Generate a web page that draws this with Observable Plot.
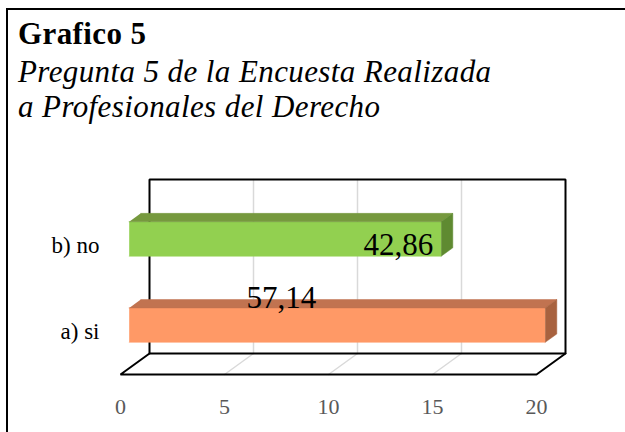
<!DOCTYPE html>
<html><head><meta charset="utf-8">
<script src="https://cdn.jsdelivr.net/npm/d3@7"></script>
<script src="https://cdn.jsdelivr.net/npm/@observablehq/plot@0.6"></script>
<style>
html,body{margin:0;padding:0;background:#fff;}
body{width:625px;height:432px;position:relative;overflow:hidden;font-family:"Liberation Serif","Times New Roman",serif;}
#box{position:absolute;left:6px;top:8px;width:800px;height:800px;border-left:2px solid #000;border-top:2px solid #000;}
.t{position:absolute;left:18px;white-space:nowrap;color:#000;}
#title{top:19px;font-weight:bold;font-size:31px;line-height:30px;letter-spacing:0.4px;}
#sub{top:54px;font-style:italic;font-size:31px;line-height:35px;letter-spacing:0.4px;}
#chart{position:absolute;left:0;top:150px;}
</style></head><body>
<div id="box"></div>
<div id="title" class="t">Grafico 5</div>
<div id="sub" class="t">Pregunta 5 de la Encuesta Realizada<br>a Profesionales del Derecho</div>
<div id="chart"></div>
<script>
const categories = ["a) si", "b) no"];
const counts = [20, 15];
const percentLabels = ["57,14", "42,86"];
const xTicks = [0, 5, 10, 15, 20];
const gridTicks = [5, 10, 15];

const frontFill = ["#FF9966", "#92D050"];
const topFill = ["#C17350", "#76993E"];
const sideFill = ["#A8623F", "#5F8A31"];

const X_MAX = 20, WALL = 2.02;
const DX = 29 / 20.8, DY = 21 / (174 / 2.02);
const P = (v, h, d) => ({x: v + d * DX, y: h + d * DY});
const HALF = 0.2, D0 = 0.3, D1 = 0.7;

const faces = [];
categories.forEach((c, i) => {
  const v = counts[i], yc = i + 0.5, lo = yc - HALF, hi = yc + HALF;
  faces.push({id: c + "-front", fill: frontFill[i], pts: [P(0, lo, D0), P(v, lo, D0), P(v, hi, D0), P(0, hi, D0)]});
  faces.push({id: c + "-top", fill: topFill[i], pts: [P(0, hi, D0), P(v, hi, D0), P(v, hi, D1), P(0, hi, D1)]});
  faces.push({id: c + "-side", fill: sideFill[i], pts: [P(v, lo, D0), P(v, lo, D1), P(v, hi, D1), P(v, hi, D0)]});
});
const facePts = faces.flatMap(f => f.pts.map(p => ({...p, id: f.id, fill: f.fill})));

const boxLines = [
  {id: "back", pts: [P(0, 0, 1), P(X_MAX, 0, 1), P(X_MAX, WALL, 1), P(0, WALL, 1), P(0, 0, 1)]},
  {id: "floor", pts: [P(0, 0, 1), P(0, 0, 0), P(X_MAX, 0, 0), P(X_MAX, 0, 1)]}
];
const boxPts = boxLines.flatMap(l => l.pts.map(p => ({...p, id: l.id})));

const gridPts = gridTicks.flatMap(t => [
  {...P(t, 0, 0), id: "f" + t}, {...P(t, 0, 1), id: "f" + t},
  {...P(t, 0, 1), id: "w" + t}, {...P(t, WALL, 1), id: "w" + t}
]);

const chart = Plot.plot({
  width: 625, height: 282,
  marginLeft: 120, marginRight: 89, marginTop: 50, marginBottom: 58,
  x: {domain: [0, X_MAX], axis: null},
  y: {domain: [0, WALL], axis: null},
  style: {fontFamily: "Liberation Serif", background: "transparent", overflow: "visible"},
  marks: [
    Plot.line(gridPts, {x: "x", y: "y", z: "id", stroke: "#d9d9d9", strokeWidth: 1.5}),
    Plot.line(boxPts, {x: "x", y: "y", z: "id", stroke: "#000", strokeWidth: 2, strokeLinejoin: "miter"}),
    Plot.line(facePts, {x: "x", y: "y", z: "id", fill: "fill", stroke: "fill", strokeWidth: 0.5}),
    Plot.text(categories, {x: 0, y: (d, i) => i + 0.5, text: d => d, textAnchor: "end", dx: -21, fontSize: 23, fill: "#000"}),
    Plot.text(xTicks, {x: d => d, y: 0, text: d => String(d), dy: 32, fontSize: 22, fill: "#595959"}),
    Plot.text([percentLabels[0]], {x: 7.32 + D0 * DX, y: 0.5 + HALF + D0 * DY, text: d => d, fontSize: 31, dy: -10, fill: "#000"}),
    Plot.text([percentLabels[1]], {x: counts[1] + D0 * DX, y: 1.5 + D0 * DY, text: d => d, textAnchor: "end", dx: -8, dy: 6, fontSize: 31, fill: "#000"})
  ]
});
document.getElementById("chart").appendChild(chart);
</script></body></html>
